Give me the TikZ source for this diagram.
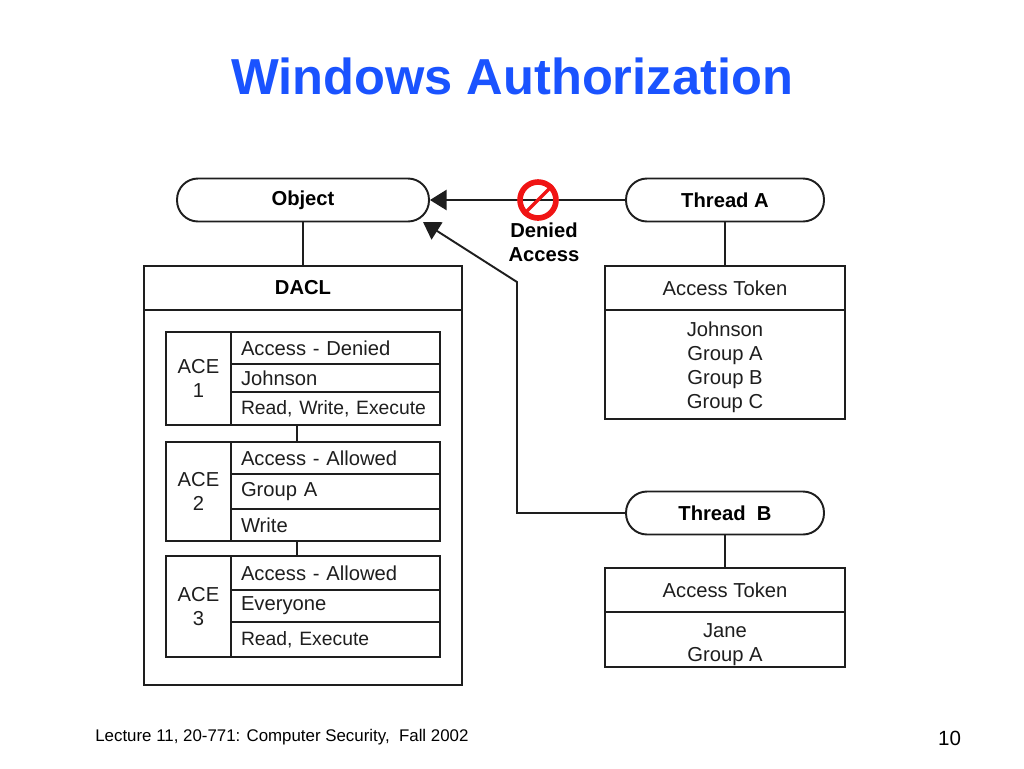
\documentclass[tikz,border=0pt]{standalone}
\usepackage{fontspec}
\setmainfont{Liberation Sans}
\usetikzlibrary{arrows.meta}
\definecolor{titleblue}{RGB}{26,83,255}
\definecolor{inkgray}{RGB}{30,30,30}
\definecolor{signred}{RGB}{240,20,20}
\newcommand{\rowtight}{\fontsize{11}{13}\selectfont}
\tikzset{
  pill/.style={draw=inkgray,line width=1.1pt,rounded corners=.42cm,minimum width=3.96cm,
               minimum height=.86cm,font=\fontsize{11.5}{13}\selectfont\bfseries,text=black},
  boxpart/.style={draw=inkgray,line width=1.1pt,inner sep=0pt,align=center,
                  font=\fontsize{11.5}{13.6}\selectfont,text=inkgray},
  rowbox/.style={boxpart,align=left,minimum width=4.18cm,text width=3.78cm},
  listtext/.style={inner sep=0pt,align=center,font=\fontsize{11.5}{13.6}\selectfont,text=inkgray},
  link/.style={draw=inkgray,line width=1.1pt},
  tiplink/.style={link,-{Triangle[length=9.5pt,width=11.5pt]}},
}
\begin{document}
\begin{tikzpicture}[x=0.02cm,y=-0.02cm]
  \useasboundingbox (0,0) rectangle (1024,768);

  \node[text=titleblue,font=\fontsize{28.8}{32}\selectfont\bfseries] (title) at (512,76) {Windows Authorization};
  \node[anchor=base west,inner sep=0pt,font=\fontsize{9.6}{11}\selectfont] (foot) at (95,741) {Lecture 11, 20-771: Computer Security,\ \ Fall 2002};
  \node[anchor=base,inner sep=0pt,font=\fontsize{11.7}{14}\selectfont] (pageno) at (949.5,745) {10};

  % object side
  \node[pill,minimum width=5.04cm] (obj) at (303,200) {Object};
  \node[boxpart,minimum width=6.36cm,minimum height=.88cm,font=\fontsize{11.5}{13}\selectfont\bfseries,text=black] (dacl) at (303,288) {DACL};
  \node[boxpart,minimum width=6.36cm,minimum height=7.5cm] (daclbody) at (303,497.5) {};
  \draw[link] (obj) -- (dacl);

  % the three entries
  \foreach \n/\top/\bot/\str in {1/332/425/ACE\\1,
                                 2/442/541/ACE\\2,
                                 3/556/657/ACE\\3}
  {\node[boxpart,minimum width=1.3cm,minimum height={(\bot-\top)*0.02cm}] (ace\n) at (198.5,{(\top+\bot)/2}) {\str};
  };
  \foreach \n/\top/\bot/\str in {a/332/364/Access - Denied,
                                 b/364/392/Johnson,
                                 c/392/425/{\rowtight Read, Write, Execute},
                                 d/442/474/Access - Allowed,
                                 e/474/509/Group A,
                                 f/509/541/Write,
                                 g/556/590/Access - Allowed,
                                 h/590/622/Everyone,
                                 i/622/657/{\rowtight Read, Execute}}
  {\node[rowbox,minimum height={(\bot-\top)*0.02cm}] (row\n) at (335.5,{(\top+\bot)/2}) {\mbox{\str}};
  };
  \coordinate (gapa) at (297,425);
  \coordinate (gapb) at (297,442);
  \coordinate (gapc) at (297,541);
  \coordinate (gapd) at (297,556);
  \draw[link] (gapa) -- (gapb);
  \draw[link] (gapc) -- (gapd);

  % thread A
  \node[pill] (threadA) at (725,200) {Thread A};
  \node[boxpart,minimum width=4.8cm,minimum height=.88cm] (tokenA) at (725,288) {Access Token};
  \node[boxpart,minimum width=4.8cm,minimum height=2.18cm] (groupsA) at (725,364.5) {};
  \node[listtext] (namesA) at (725,367) {Johnson\\Group A\\Group B\\Group C};
  \draw[link] (threadA) -- (tokenA);

  % thread B
  \node[pill] (threadB) at (725,513) {Thread\ \ B};
  \node[boxpart,minimum width=4.8cm,minimum height=.88cm] (tokenB) at (725,590) {Access Token};
  \node[boxpart,minimum width=4.8cm,minimum height=1.1cm] (groupsB) at (725,639.5) {};
  \node[listtext] (namesB) at (725,645) {Jane\\Group A};
  \draw[link] (threadB) -- (tokenB);

  % access lines
  \coordinate (elbowa) at (517,513);
  \coordinate (elbowb) at (517,282);
  \coordinate (hit) at (423,222);
  \draw[tiplink] (threadA) -- (obj);
  \draw[tiplink] (threadB) -- (elbowa) -- (elbowb) -- (hit);

  % denied sign
  \node[circle,draw=signred,line width=3.2pt,minimum size=.72cm,inner sep=0pt] (deny) at (538,200) {};
  \draw[signred,line width=2pt] (deny.south west) -- (deny.north east);
  \node[align=center,inner sep=0pt,font=\fontsize{11.5}{13.6}\selectfont\bfseries] (denytext) at (544,242) {Denied\\Access};
\end{tikzpicture}
\end{document}
